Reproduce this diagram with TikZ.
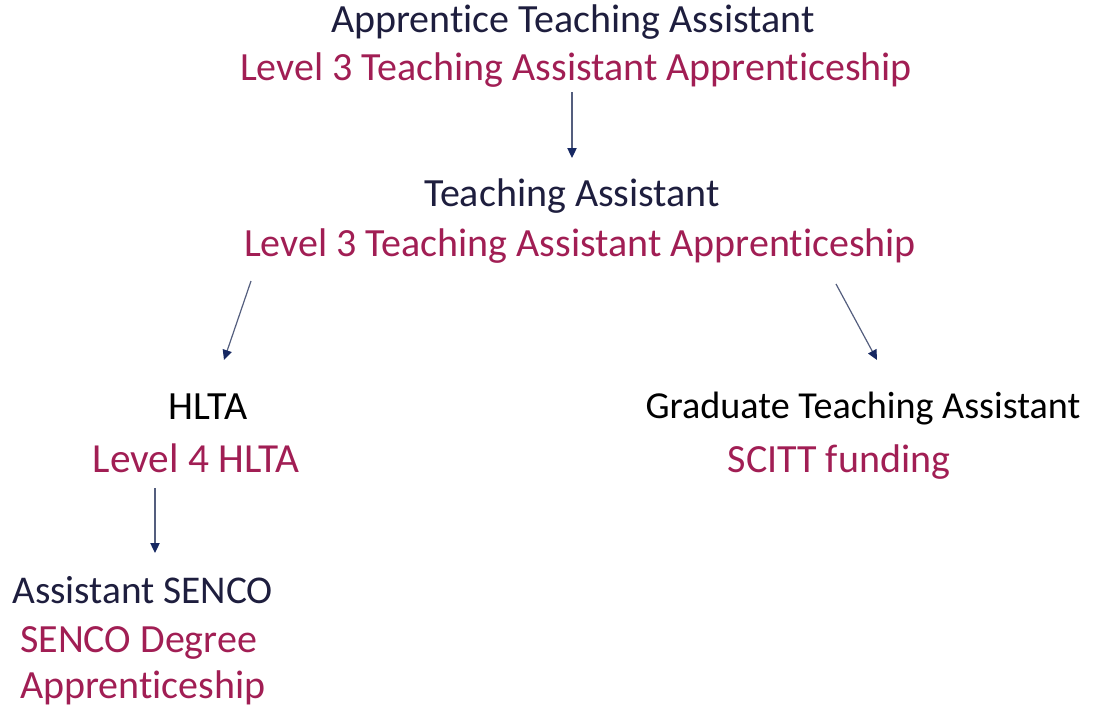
\documentclass[tikz,border=0pt]{standalone}
\usepackage{fontspec}
\setmainfont{Carlito}[Ligatures={NoCommon}]
\usetikzlibrary{arrows.meta}
\definecolor{rolenavy}{RGB}{30,30,62}
\definecolor{routered}{RGB}{161,30,84}
\definecolor{arrowline}{RGB}{84,94,126}
\definecolor{arrowtip}{RGB}{22,40,98}
\tikzset{
  role/.style={font=\fontsize{30}{36}\selectfont, text=rolenavy, inner sep=0pt, anchor=base},
  route/.style={font=\fontsize{30}{36}\selectfont, text=routered, inner sep=0pt, anchor=base},
  flow arrow/.style={draw=arrowline, line width=0.9pt,
    -{Triangle[length=7.5pt,width=7pt,color=arrowtip,fill=arrowtip]}}
}
\begin{document}
\begin{tikzpicture}[x=0.75pt,y=-0.75pt]
  \useasboundingbox (0,0) rectangle (1094,710);
  % top level
  \node[role] (apprentice) at (573,33) {Apprentice Teaching Assistant};
  \node[route] (level3a) at (576,80) {Level 3 Teaching Assistant Apprenticeship};
  % second level
  \node[role] (ta) at (572,206) {Teaching Assistant};
  \node[route] (level3b) at (580,256) {Level 3 Teaching Assistant Apprenticeship};
  % left branch
  \node[role, text=black] (hlta) at (208,419) {HLTA};
  \node[route, font=\fontsize{31}{36}\selectfont] (level4) at (196,472) {Level 4 HLTA};
  \node[role, anchor=base west, font=\fontsize{29.5}{36}\selectfont] (senco) at (12,603) {Assistant SENCO};
  \node[route, anchor=base west] (sencodeg) at (20,652) {SENCO Degree};
  \node[route, anchor=base west] (sencoapp) at (20,698) {Apprenticeship};
  % right branch
  \node[role, text=black, font=\fontsize{28.6}{36}\selectfont] (gta) at (863,418) {Graduate Teaching Assistant};
  \node[route] (scitt) at (839,472) {SCITT funding};
  % arrow ends
  \coordinate (a1s) at (572,92);  \coordinate (a1e) at (572,158);
  \coordinate (a2s) at (251,281); \coordinate (a2e) at (224,360);
  \coordinate (a3s) at (836,284); \coordinate (a3e) at (877,360);
  \coordinate (a4s) at (155,488); \coordinate (a4e) at (155,553);
  \draw[flow arrow] (a1s) -- (a1e);
  \draw[flow arrow] (a2s) -- (a2e);
  \draw[flow arrow] (a3s) -- (a3e);
  \draw[flow arrow] (a4s) -- (a4e);
\end{tikzpicture}
\end{document}
